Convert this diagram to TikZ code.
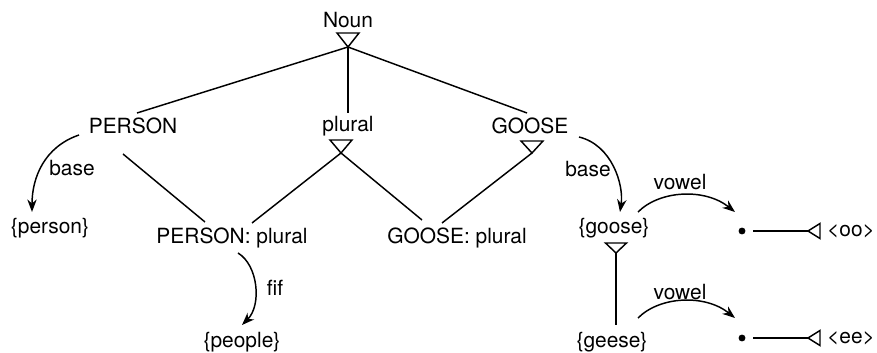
\documentclass[tikz,border=0pt]{standalone}
\usepackage{fontspec}
\setmainfont{TeX Gyre Heros}
\usetikzlibrary{arrows.meta}
\tikzset{
  word/.style={inner sep=1pt, font=\fontsize{10}{12}\selectfont},
  rel/.style={-{Stealth[length=6pt,width=4.5pt]}},
  bullet/.style={circle, fill, inner sep=0pt, minimum size=3.3pt},
}
\begin{document}
\begin{tikzpicture}[x=0.478pt,y=-0.478pt,line width=0.7pt]
   \useasboundingbox (0,0) rectangle (877,353);

   % upper part of the tree
   \node[word] (noun) at (348,20) {Noun};
   \coordinate (nounT) at (348,47);
   \draw (nounT) -- ++(-11,-14) -- ++(22,0) -- cycle;

   \node[word] (person) at (133,126) {PERSON};
   \node[word] (plural) at (348,126) {plural};
   \coordinate (pluralT) at (341,153);
   \draw (pluralT) -- ++(-11,-13) -- ++(22,0) -- cycle;
   \node[word] (goose) at (530,126) {GOOSE};
   \coordinate (gooseT) at (532,153);
   \draw (gooseT) -- ++(-11,-12) -- ++(22,0) -- cycle;

   \draw (nounT) -- ([shift={(4,-13)}]person.center);
   \draw (nounT) -- ([shift={(0,-13)}]plural.center);
   \draw (nounT) -- ([shift={(-3,-13)}]goose.center);

   % plural forms
   \node[word] (pplural) at (232,238) {PERSON: plural};
   \node[word] (gplural) at (457,238) {GOOSE: plural};
   \draw ([shift={(-10,28)}]person.center) -- ([shift={(-27,-16)}]pplural.center);
   \draw (pluralT) -- ([shift={(20,-15)}]pplural.center);
   \draw (pluralT) -- ([shift={(-35,-18)}]gplural.center);
   \draw (gooseT) -- ([shift={(-15,-15)}]gplural.center);

   % stems
   \node[word] (pset) at (50,228) {\{person\}};
   \node[word] (people) at (242,342) {\{people\}};
   \draw[rel] ([shift={(-54,9)}]person.center) .. controls (44,147) and (32,178) .. ([shift={(-18,-16)}]pset.center);
   \node[word] (pbase) at (72,168) {base};
   \draw[rel] ([shift={(6,15)}]pplural.center) .. controls (258,265) and (262,305) .. ([shift={(0,-17)}]people.center);
   \node[word] (fif) at (275,288) {fif};

   \node[word] (gset) at (614,228) {\{goose\}};
   \coordinate (gsetT) at (616,253);
   \draw (gsetT) -- ++(-10.5,-10) -- ++(21,0) -- cycle;
   \node[word] (geese) at (612,342) {\{geese\}};
   \draw (gsetT) -- ([shift={(4,-17)}]geese.center);
   \draw[rel] ([shift={(49,11)}]goose.center) .. controls (612,145) and (624,185) .. ([shift={(6,-16)}]gset.center);
   \node[word] (gbase) at (588,169) {base};

   % vowels
   \node[bullet] (dotA) at (742,231) {};
   \node[bullet] (dotB) at (742,338) {};
   \node[word] (oo) at (851,231) {<oo>};
   \node[word] (ee) at (851,338) {<ee>};
   \coordinate (ooT) at (808,231);
   \coordinate (eeT) at (808,338);
   \draw (ooT) -- ++(12,-7.5) -- ++(0,15) -- cycle;
   \draw (eeT) -- ++(12,-7.5) -- ++(0,15) -- cycle;
   \draw ([shift={(11,0)}]dotA.center) -- (ooT);
   \draw ([shift={(11,0)}]dotB.center) -- (eeT);

   \draw[rel] ([shift={(24,-16)}]gset.center) .. controls (660,190) and (705,188) .. ([shift={(-7,-19)}]dotA.center);
   \node[word] (vowelA) at (680,182) {vowel};
   \draw[rel] ([shift={(26,-24)}]geese.center) .. controls (660,296) and (705,294) .. ([shift={(-7,-20)}]dotB.center);
   \node[word] (vowelB) at (680,292) {vowel};
\end{tikzpicture}
\end{document}
